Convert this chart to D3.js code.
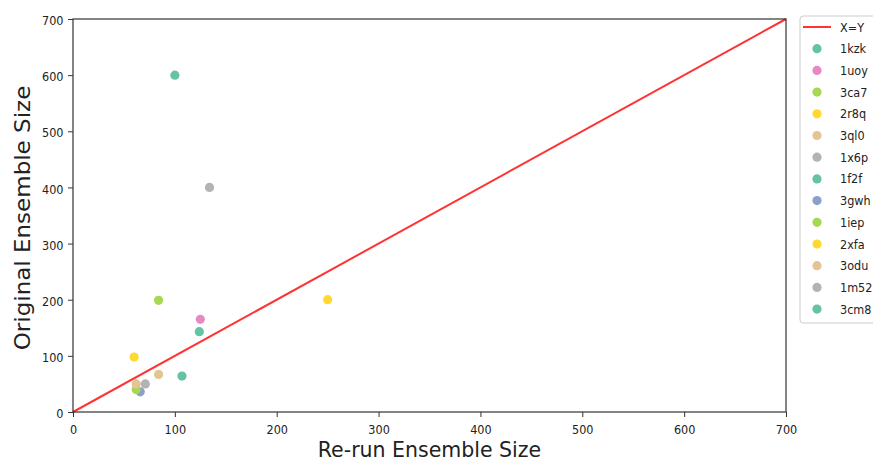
<!DOCTYPE html>
<html>
<head>
<meta charset="utf-8">
<script src="https://cdn.jsdelivr.net/npm/d3@7"></script>
<style>
  html, body { margin: 0; padding: 0; background: #fff; }
  svg { display: block; font-family: "DejaVu Sans", sans-serif; }
</style>
</head>
<body>
<svg id="chart" width="873" height="462"></svg>
<script>
// Protein structures and their ensemble sizes (re-run vs. original)
const proteins = ["1kzk", "1uoy", "3ca7", "2r8q", "3ql0", "1x6p", "1f2f", "3gwh", "1iep", "2xfa", "3odu", "1m52", "3cm8"];
const rerunSize = [100, 125, 84, 250, 84, 134, 124, 66, 62, 60, 62, 71, 107];
const originalSize = [600, 165, 199, 200, 67, 400, 143, 36, 40, 98, 50, 50, 64];
const pointColors = ["#66c2a5", "#e78ac3", "#a6d854", "#ffd92f", "#e5c494", "#b3b3b3", "#66c2a5",
                     "#8da0cb", "#a6d854", "#ffd92f", "#e5c494", "#b3b3b3", "#66c2a5"];
const tickValues = [0, 100, 200, 300, 400, 500, 600, 700];
const identityLine = [0, 700];

const svg = d3.select("#chart");
const margin = { left: 73, right: 87, top: 19, bottom: 50 };
const W = 873, H = 462;
const condensed = "'DejaVu Sans Condensed', 'DejaVu Sans', sans-serif";

const x = d3.scaleLinear().domain([0, 700]).range([margin.left, W - margin.right]);
const y = d3.scaleLinear().domain([0, 700]).range([H - margin.bottom, margin.top]);

// identity reference line
svg.append("line")
  .attr("x1", x(identityLine[0])).attr("y1", y(identityLine[0]))
  .attr("x2", x(identityLine[1])).attr("y2", y(identityLine[1]))
  .attr("stroke", "#ff0000").attr("stroke-opacity", 0.8).attr("stroke-width", 2);

// scatter points
svg.append("g").selectAll("circle")
  .data(proteins)
  .join("circle")
  .attr("cx", (d, i) => x(rerunSize[i]))
  .attr("cy", (d, i) => y(originalSize[i]))
  .attr("r", 4.6)
  .attr("fill", (d, i) => pointColors[i]);

// axes
const xAxis = svg.append("g")
  .attr("transform", `translate(0,${y(0)})`)
  .call(d3.axisBottom(x).tickValues(tickValues).tickSize(5).tickPadding(8));
const yAxis = svg.append("g")
  .attr("transform", `translate(${x(0)},0)`)
  .call(d3.axisLeft(y).tickValues(tickValues).tickSize(5).tickPadding(4.5));
[xAxis, yAxis].forEach(g => {
  g.select(".domain").remove();
  g.selectAll("line").attr("stroke", "#333");
  g.selectAll("text").attr("font-size", 12.5).attr("fill", "#222")
    .attr("font-family", condensed);
});
yAxis.selectAll("text").attr("dy", "0.45em");

// frame
svg.append("rect")
  .attr("x", x(0)).attr("y", y(700))
  .attr("width", x(700) - x(0)).attr("height", y(0) - y(700))
  .attr("fill", "none").attr("stroke", "#333").attr("stroke-width", 1.2);

// axis titles
svg.append("text")
  .attr("x", (x(0) + x(700)) / 2).attr("y", 457)
  .attr("text-anchor", "middle").attr("font-size", 20.5).attr("fill", "#222")
  .text("Re-run Ensemble Size");
svg.append("text")
  .attr("transform", `translate(30,218) rotate(-90) scale(1,0.9)`)
  .attr("text-anchor", "middle").attr("font-size", 23).attr("fill", "#222")
  .text("Original Ensemble Size");

// legend
const lg = svg.append("g").attr("transform", "translate(800,16)");
lg.append("rect")
  .attr("x", 0).attr("y", 0).attr("width", 90).attr("height", 307)
  .attr("rx", 3).attr("fill", "#fff").attr("fill-opacity", 0.8)
  .attr("stroke", "#ccc");
const rowH = 21.7;
lg.append("line")
  .attr("x1", 3).attr("x2", 31).attr("y1", 11).attr("y2", 11)
  .attr("stroke", "#ff0000").attr("stroke-opacity", 0.8).attr("stroke-width", 2);
lg.append("text").attr("x", 40).attr("y", 15.5).attr("font-size", 12.5).attr("fill", "#222")
  .attr("font-family", condensed)
  .text("X=Y");
const items = lg.selectAll("g.item").data(proteins).join("g")
  .attr("class", "item")
  .attr("transform", (d, i) => `translate(0,${11 + rowH * (i + 1)})`);
items.append("circle").attr("cx", 17).attr("cy", 0).attr("r", 4.6)
  .attr("fill", (d, i) => pointColors[i]);
items.append("text").attr("x", 40).attr("y", 4.5).attr("font-size", 12.5).attr("fill", "#222")
  .attr("font-family", condensed)
  .text(d => d);
</script>
</body>
</html>
